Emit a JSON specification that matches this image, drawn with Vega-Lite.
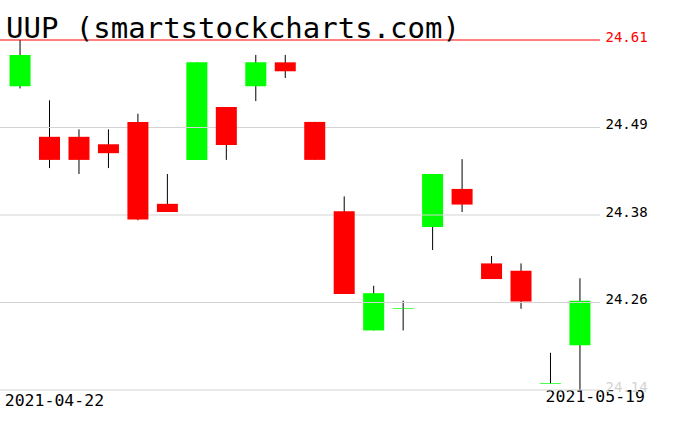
{
  "$schema": "https://vega.github.io/schema/vega-lite/v6.json",
  "autosize": {"type": "none"},
  "width": 600,
  "height": 350,
  "padding": {"left": 0, "top": 40, "right": 76, "bottom": 41},
  "background": "white",
  "title": {
    "text": "UUP (smartstockcharts.com)",
    "anchor": "start",
    "frame": "group",
    "font": "DejaVu Sans Mono",
    "fontSize": 29,
    "fontWeight": "normal",
    "color": "black",
    "baseline": "alphabetic",
    "offset": 2,
    "dx": 6,
    "dy": 39
  },
  "datasets": {
    "candles": [
      {"date": "2021-04-22", "open": 24.548, "high": 24.610, "low": 24.545, "close": 24.590},
      {"date": "2021-04-23", "open": 24.480, "high": 24.529, "low": 24.438, "close": 24.449},
      {"date": "2021-04-26", "open": 24.480, "high": 24.490, "low": 24.430, "close": 24.449},
      {"date": "2021-04-27", "open": 24.470, "high": 24.490, "low": 24.438, "close": 24.458},
      {"date": "2021-04-28", "open": 24.500, "high": 24.511, "low": 24.368, "close": 24.369},
      {"date": "2021-04-29", "open": 24.390, "high": 24.430, "low": 24.379, "close": 24.379},
      {"date": "2021-04-30", "open": 24.449, "high": 24.580, "low": 24.449, "close": 24.580},
      {"date": "2021-05-03", "open": 24.520, "high": 24.520, "low": 24.449, "close": 24.469},
      {"date": "2021-05-04", "open": 24.548, "high": 24.590, "low": 24.528, "close": 24.580},
      {"date": "2021-05-05", "open": 24.580, "high": 24.590, "low": 24.559, "close": 24.568},
      {"date": "2021-05-06", "open": 24.500, "high": 24.500, "low": 24.449, "close": 24.449},
      {"date": "2021-05-07", "open": 24.380, "high": 24.400, "low": 24.269, "close": 24.269},
      {"date": "2021-05-10", "open": 24.220, "high": 24.280, "low": 24.220, "close": 24.270},
      {"date": "2021-05-11", "open": 24.2494, "high": 24.260, "low": 24.220, "close": 24.2494},
      {"date": "2021-05-12", "open": 24.359, "high": 24.430, "low": 24.328, "close": 24.430},
      {"date": "2021-05-13", "open": 24.410, "high": 24.450, "low": 24.379, "close": 24.389},
      {"date": "2021-05-14", "open": 24.310, "high": 24.320, "low": 24.289, "close": 24.289},
      {"date": "2021-05-17", "open": 24.300, "high": 24.310, "low": 24.249, "close": 24.259},
      {"date": "2021-05-18", "open": 24.1487, "high": 24.190, "low": 24.1487, "close": 24.1487},
      {"date": "2021-05-19", "open": 24.200, "high": 24.290, "low": 24.140, "close": 24.260}
    ],
    "levels": [
      {"level": 24.14},
      {"level": 24.2575},
      {"level": 24.375},
      {"level": 24.4925},
      {"level": 24.61}
    ]
  },
  "layer": [
    {
      "data": {"name": "candles"},
      "mark": {"type": "rule", "strokeWidth": 1},
      "encoding": {
        "x": {
          "field": "date",
          "type": "ordinal",
          "scale": {"type": "band", "paddingInner": 0.287, "paddingOuter": 0.3235},
          "axis": {
            "title": null,
            "values": ["2021-04-22", "2021-05-19"],
            "domain": false,
            "ticks": false,
            "tickSize": 0,
            "grid": false,
            "labelAngle": 0,
            "labelFont": "DejaVu Sans Mono",
            "labelFontSize": 16.5,
            "labelColor": "black",
            "labelBaseline": "alphabetic",
            "labelAlign": {"condition": {"test": "datum.value == '2021-04-22'", "value": "left"}, "value": "right"},
            "labelOffset": {"condition": {"test": "datum.value == '2021-04-22'", "value": -15.3}, "value": 65},
            "labelPadding": {"condition": {"test": "datum.value == '2021-04-22'", "value": 15.7}, "value": 11.7}
          }
        },
        "y": {
          "field": "low",
          "type": "quantitative",
          "scale": {"domain": [24.14, 24.61], "nice": false, "zero": false},
          "axis": {
            "title": null,
            "orient": "right",
            "values": [24.14, 24.2575, 24.375, 24.4925, 24.61],
            "format": ".2f",
            "domain": false,
            "ticks": false,
            "tickSize": 0,
            "grid": false,
            "labelFont": "DejaVu Sans Mono",
            "labelFontSize": 14,
            "labelBaseline": "alphabetic",
            "labelAlign": "left",
            "labelPadding": 5,
            "labelOffset": 1,
            "labelColor": {"expr": "datum.value > 24.6 ? '#ff0000' : datum.value < 24.15 ? '#d3d3d3' : '#000000'"}
          }
        },
        "y2": {"field": "high"},
        "color": {"value": "black"}
      }
    },
    {
      "data": {"name": "candles"},
      "transform": [{"filter": "datum.close > datum.open"}],
      "mark": {"type": "bar"},
      "encoding": {
        "x": {"field": "date", "type": "ordinal"},
        "y": {"field": "open", "type": "quantitative"},
        "y2": {"field": "close"},
        "color": {"value": "#00ff00"}
      }
    },
    {
      "data": {"name": "levels"},
      "mark": {"type": "rule", "strokeWidth": 1},
      "encoding": {
        "y": {"field": "level", "type": "quantitative"},
        "color": {
          "condition": {"test": "datum.level > 24.6", "value": "#ff0000"},
          "value": "#d3d3d3"
        }
      }
    },
    {
      "data": {"name": "candles"},
      "transform": [{"filter": "datum.close < datum.open"}],
      "mark": {"type": "bar"},
      "encoding": {
        "x": {"field": "date", "type": "ordinal"},
        "y": {"field": "open", "type": "quantitative"},
        "y2": {"field": "close"},
        "color": {"value": "#ff0000"}
      }
    },
    {
      "data": {"name": "candles"},
      "transform": [{"filter": "datum.close == datum.open"}],
      "mark": {"type": "tick", "thickness": 1, "size": 21},
      "encoding": {
        "x": {"field": "date", "type": "ordinal"},
        "y": {"field": "open", "type": "quantitative"},
        "color": {"value": "#00ff00"}
      }
    }
  ],
  "config": {
    "view": {"stroke": null},
    "bar": {"cornerRadius": 0}
  }
}
